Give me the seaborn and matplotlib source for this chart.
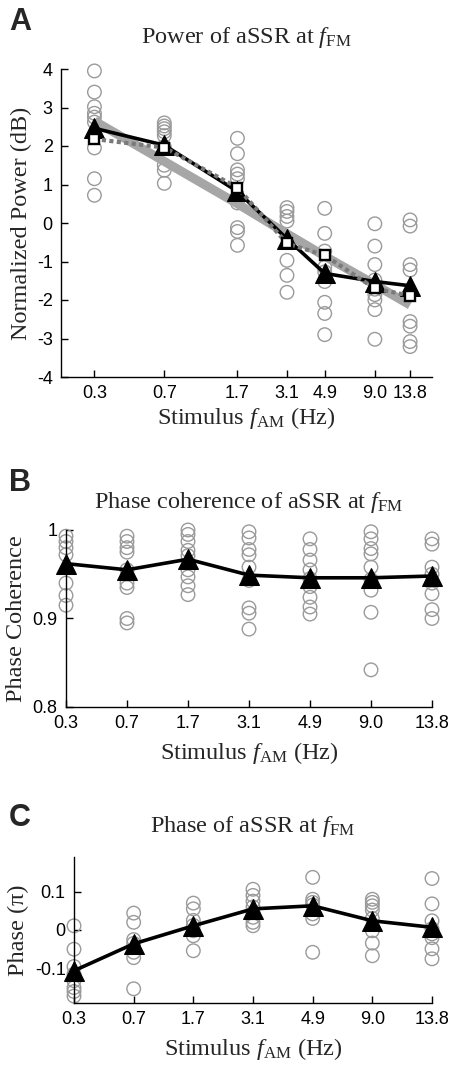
import numpy as np
import pandas as pd
import matplotlib
matplotlib.use("Agg")
import matplotlib.pyplot as plt
import seaborn as sns

# ---------------- data ----------------
freq_labels = ["0.3", "0.7", "1.7", "3.1", "4.9", "9.0", "13.8"]
freq_hz = [0.3, 0.7, 1.7, 3.1, 4.9, 9.0, 13.8]

# Panel A: normalized power (dB), individual subjects
power_points = [
    [3.95, 3.4, 3.02, 2.85, 2.75, 2.62, 1.95, 1.15, 0.72],
    [2.6, 2.52, 2.45, 2.37, 2.27, 1.98, 1.5, 1.37, 1.03],
    [2.2, 1.8, 1.38, 1.27, 1.15, 0.52, -0.12, -0.22, -0.58],
    [0.4, 0.3, 0.17, 0.05, -0.97, -1.36, -1.8],
    [0.38, -0.27, -0.73, -1.15, -1.27, -1.52, -2.06, -2.35, -2.9],
    [-0.02, -0.6, -1.08, -1.48, -1.72, -1.86, -2.0, -2.25, -3.02],
    [0.08, -0.08, -1.08, -1.22, -2.56, -2.68, -3.08, -3.21],
]
power_mean = [2.46, 2.02, 0.82, -0.41, -1.31, -1.52, -1.63]
power_median = [2.18, 1.96, 0.92, -0.53, -0.84, -1.70, -1.89]
power_fit = [2.65, 1.6, 0.5, -0.28, -0.86, -1.6, -2.13]

# Panel B: phase coherence
coh_points = [
    [0.993, 0.987, 0.98, 0.972, 0.94, 0.926, 0.915],
    [0.993, 0.987, 0.98, 0.975, 0.955, 0.94, 0.935, 0.9, 0.895],
    [1.0, 0.995, 0.987, 0.977, 0.971, 0.955, 0.947, 0.937, 0.927],
    [0.998, 0.991, 0.978, 0.972, 0.958, 0.943, 0.912, 0.906, 0.888],
    [0.99, 0.978, 0.966, 0.955, 0.945, 0.936, 0.924, 0.913, 0.905],
    [0.998, 0.99, 0.979, 0.973, 0.958, 0.944, 0.932, 0.907, 0.842],
    [0.99, 0.984, 0.958, 0.95, 0.94, 0.928, 0.91, 0.9],
]
coh_mean = [0.962, 0.955, 0.967, 0.949, 0.946, 0.946, 0.948]

# Panel C: phase (pi)
phase_points = [
    [0.011, -0.05, -0.095, -0.115, -0.132, -0.15, -0.16, -0.172],
    [0.044, 0.02, -0.025, -0.035, -0.058, -0.072, -0.153],
    [0.07, 0.055, 0.025, 0.012, -0.002, -0.015, -0.054],
    [0.106, 0.09, 0.075, 0.06, 0.045, 0.033, 0.02, 0.011],
    [0.137, 0.08, 0.072, 0.065, 0.042, 0.03, -0.058],
    [0.08, 0.072, 0.063, 0.052, 0.03, -0.002, -0.034, -0.067],
    [0.134, 0.068, 0.024, 0.003, -0.01, -0.02, -0.049, -0.075],
]
phase_mean = [-0.106, -0.036, 0.011, 0.055, 0.063, 0.024, 0.007]


def long_form(points):
    rows = []
    for i, vals in enumerate(points):
        for v in vals:
            rows.append({"pos": i, "hz": freq_hz[i], "val": v})
    return pd.DataFrame(rows)


df_power = long_form(power_points)
df_coh = long_form(coh_points)
df_phase = long_form(phase_points)
pos = list(range(len(freq_labels)))

# ---------------- style ----------------
sns.set_theme(style="ticks")
plt.rcParams["font.family"] = ["Liberation Sans", "DejaVu Sans"]
plt.rcParams["axes.unicode_minus"] = False
plt.rcParams["mathtext.fontset"] = "custom"
plt.rcParams["mathtext.rm"] = "Liberation Serif"
plt.rcParams["mathtext.it"] = "Liberation Serif:italic"

SERIF = ["Liberation Serif", "DejaVu Serif"]
CIRC = "#9a9a9a"
TICK_FS = 13
LAB_FS = 17.5

W, H = 450, 1072
fig = plt.figure(figsize=(W / 100, H / 100), dpi=100)


def px_axes(left, top, right, bottom):
    return fig.add_axes([left / W, 1 - bottom / H, (right - left) / W, (bottom - top) / H])


axA = px_axes(61, 69, 432, 377)
axB = px_axes(66, 530, 432, 707)
axC = px_axes(74, 857, 432, 1003)

circ_kw = dict(marker="o", s=95, facecolors="none", edgecolor=CIRC, linewidth=1.0,
               legend=False, clip_on=False, zorder=2)
tri_kw = dict(marker="^", markersize=14.5, color="black", markeredgecolor="black",
              linewidth=2.6, legend=False, clip_on=False, zorder=4)

# ---- Panel A ----
axA.set_xscale("log")
sns.scatterplot(data=df_power, x="hz", y="val", ax=axA, **circ_kw)
sns.lineplot(x=freq_hz, y=power_fit, ax=axA, color="#a6a6a6", linewidth=6.5,
             legend=False, zorder=3, solid_capstyle="butt")
sns.lineplot(x=freq_hz, y=power_mean, ax=axA, **tri_kw)
sns.lineplot(x=freq_hz, y=power_median, ax=axA, color="#7a7a7a", linewidth=3,
             linestyle=(0, (1, 0.8)), marker="s", markersize=6.5, markerfacecolor="white",
             markeredgecolor="black", markeredgewidth=1.7, legend=False, zorder=5, clip_on=False)
axA.set_xlim(0.2, 18)
axA.set_ylim(-4, 4)
axA.set_xticks(freq_hz)
axA.set_xticklabels(freq_labels)
axA.xaxis.set_minor_locator(matplotlib.ticker.NullLocator())
axA.set_yticks(range(-4, 5))
axA.set_yticklabels([str(v) for v in range(-4, 5)])
axA.set_ylabel("Normalized Power (dB)", family=SERIF, fontsize=LAB_FS)
axA.set_xlabel(r"Stimulus $\mathit{f}_{\mathrm{AM}}$ (Hz)", family=SERIF, fontsize=LAB_FS)
axA.set_title(r"Power of aSSR at $\mathit{f}_{\mathrm{FM}}$", family=SERIF, fontsize=LAB_FS, pad=19)
axA.yaxis.set_label_coords(-0.078, 0.5)
axA.xaxis.set_label_coords(0.5, -0.092)

# ---- Panel B ----
sns.scatterplot(data=df_coh, x="pos", y="val", ax=axB, **circ_kw)
sns.lineplot(x=pos, y=coh_mean, ax=axB, **tri_kw)
axB.set_xlim(0, 6)
axB.set_ylim(0.8, 1.0)
axB.set_xticks(pos)
axB.set_xticklabels(freq_labels)
axB.set_yticks([0.8, 0.9, 1.0])
axB.set_yticklabels(["0.8", "0.9", "1"])
axB.set_ylabel("Phase Coherence", family=SERIF, fontsize=LAB_FS)
axB.set_xlabel(r"Stimulus $\mathit{f}_{\mathrm{AM}}$ (Hz)", family=SERIF, fontsize=LAB_FS)
axB.set_title(r"Phase coherence of aSSR at $\mathit{f}_{\mathrm{FM}}$", family=SERIF,
              fontsize=LAB_FS, pad=16)
axB.yaxis.set_label_coords(-0.106, 0.5)
axB.xaxis.set_label_coords(0.5, -0.185)

# ---- Panel C ----
sns.scatterplot(data=df_phase, x="pos", y="val", ax=axC, **circ_kw)
sns.lineplot(x=pos, y=phase_mean, ax=axC, **tri_kw)
axC.set_xlim(0, 6)
axC.set_ylim(-0.19, 0.19)
axC.set_xticks(pos)
axC.set_xticklabels(freq_labels)
axC.set_yticks([-0.1, 0, 0.1])
axC.set_yticklabels(["-0.1", "0", "0.1"])
axC.set_ylabel("Phase (\u03c0)", family=SERIF, fontsize=LAB_FS)
axC.set_xlabel(r"Stimulus $\mathit{f}_{\mathrm{AM}}$ (Hz)", family=SERIF, fontsize=LAB_FS)
axC.set_title(r"Phase of aSSR at $\mathit{f}_{\mathrm{FM}}$", family=SERIF,
              fontsize=LAB_FS, pad=18)
axC.yaxis.set_label_coords(-0.125, 0.5)
axC.xaxis.set_label_coords(0.5, -0.225)

for ax in (axA, axB, axC):
    sns.despine(ax=ax)
    for side in ("left", "bottom"):
        ax.spines[side].set_color("black")
        ax.spines[side].set_linewidth(1.0)
    ax.tick_params(axis="both", direction="in", length=5, width=1, colors="black",
                   labelsize=TICK_FS, pad=6)
    ax.tick_params(axis="x", pad=6)
    ax.grid(False)

# panel letters
for letter, ytop in (("A", 7), ("B", 468), ("C", 803)):
    fig.text(9 / W, 1 - ytop / H, letter, fontsize=22, fontweight="bold",
             family=["Liberation Sans", "DejaVu Sans"], va="top", ha="left")

fig.savefig("out.png", dpi=100)
